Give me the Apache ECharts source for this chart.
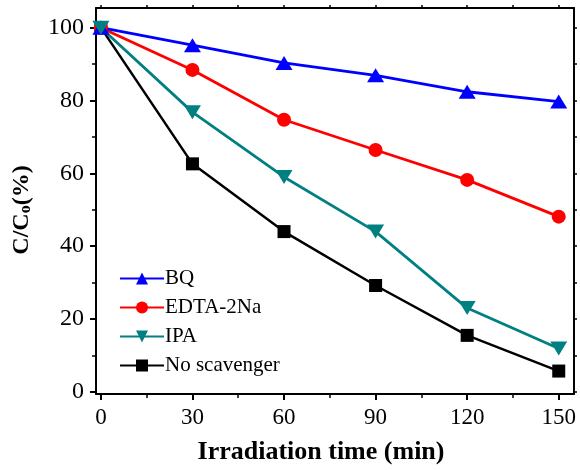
<!DOCTYPE html>
<html>
<head>
<meta charset="utf-8">
<script src="https://cdn.jsdelivr.net/npm/echarts@6/dist/echarts.min.js"></script>
<style>html,body{margin:0;padding:0;background:#fff}#c{width:580px;height:470px}</style>
</head>
<body>
<div id="c"></div>
<script>
const times = [0, 30, 60, 90, 120, 150];
const bq = [100, 95.2, 90.3, 86.9, 82.4, 79.7];
const edta = [100, 88.4, 74.7, 66.4, 58.2, 48.1];
const ipa = [100, 76.8, 59.0, 44.0, 23.0, 11.9];
const noScav = [100, 62.6, 44.0, 29.2, 15.5, 5.7];
const xMajor = [0, 30, 60, 90, 120, 150];
const xMinor = [15, 45, 75, 105, 135];
const xTop = [0, 15, 30, 45, 60, 75, 90, 105, 120, 135, 150];
const yMajor = [0, 20, 40, 60, 80, 100];
const yMinor = [10, 30, 50, 70, 90];
const yRight = [0, 10, 20, 30, 40, 50, 60, 70, 80, 90, 100];

const FONT = 'Liberation Serif';
const XMIN = -1.6, XMAX = 155, YMIN = -0.6, YMAX = 105.4;
const axisLine = {show: true, onZero: false, lineStyle: {color: '#000', width: 2}};
const noLine = {show: false, onZero: false};
const pair = (xs, ys) => xs.map((x, i) => [x, ys[i]]);

const chart = echarts.init(document.getElementById('c'), null, {renderer: 'canvas'});
chart.setOption({
  animation: false,
  backgroundColor: '#fff',
  grid: {left: 96, right: 6, top: 8, bottom: 74, containLabel: false},
  xAxis: [
    {type: 'value', position: 'bottom', min: XMIN, max: XMAX, offset: 0,
     axisLine: axisLine, splitLine: {show: false},
     axisTick: {show: true, customValues: xMajor, length: 6, inside: false, lineStyle: {color: '#000', width: 2}},
     axisLabel: {show: true, customValues: xMajor, margin: 12, fontFamily: FONT, fontSize: 23, color: '#000'},
     name: 'Irradiation time (min)', nameLocation: 'middle', nameGap: 45,
     nameTextStyle: {fontFamily: FONT, fontSize: 26, fontWeight: 'bold', color: '#000', padding: [0, 28, 0, 0]}},
    {type: 'value', position: 'bottom', min: XMIN, max: XMAX, offset: 0,
     axisLine: noLine, splitLine: {show: false},
     axisTick: {show: true, customValues: xMinor, length: 4, lineStyle: {color: '#000', width: 1.5}},
     axisLabel: {show: false}},
    {type: 'value', position: 'top', min: XMIN, max: XMAX, offset: 0,
     axisLine: axisLine, splitLine: {show: false},
     axisTick: {show: true, customValues: xTop, length: 3, lineStyle: {color: '#000', width: 1.5}},
     axisLabel: {show: false}}
  ],
  yAxis: [
    {type: 'value', position: 'left', min: YMIN, max: YMAX, offset: 0,
     axisLine: axisLine, splitLine: {show: false},
     axisTick: {show: true, customValues: yMajor, length: 6, lineStyle: {color: '#000', width: 2}},
     axisLabel: {show: true, customValues: yMajor, margin: 12, fontFamily: FONT, fontSize: 24, color: '#000'},
     name: '{a|C/C}{s|o}{a|(%)}', nameLocation: 'middle', nameGap: 62, nameRotate: 90,
     nameTextStyle: {padding: [0, 18, 0, 0], rich: {
       a: {fontFamily: FONT, fontSize: 24, fontWeight: 'bold', color: '#000'},
       s: {fontFamily: FONT, fontSize: 16, fontWeight: 'bold', color: '#000', verticalAlign: 'bottom', padding: [8, 0, 0, 0]}
     }}},
    {type: 'value', position: 'left', min: YMIN, max: YMAX, offset: 0,
     axisLine: noLine, splitLine: {show: false},
     axisTick: {show: true, customValues: yMinor, length: 4, lineStyle: {color: '#000', width: 1.5}},
     axisLabel: {show: false}},
    {type: 'value', position: 'right', min: YMIN, max: YMAX, offset: 0,
     axisLine: axisLine, splitLine: {show: false},
     axisTick: {show: true, customValues: yRight, length: 3, lineStyle: {color: '#000', width: 1.5}},
     axisLabel: {show: false}}
  ],
  legend: {
    orient: 'vertical', left: 114, top: 263, itemWidth: 44, itemHeight: 15, itemGap: 8,
    textStyle: {fontFamily: FONT, fontSize: 21, color: '#000', padding: [0, 0, 0, -4]},
    data: ['BQ', 'EDTA-2Na', 'IPA', 'No scavenger']
  },
  series: [
    {name: 'No scavenger', type: 'line', data: pair(times, noScav), symbol: 'rect', symbolSize: 13,
     itemStyle: {color: '#000'}, lineStyle: {color: '#000', width: 2.5}},
    {name: 'EDTA-2Na', type: 'line', data: pair(times, edta), symbol: 'circle', symbolSize: 14,
     itemStyle: {color: '#ff0000'}, lineStyle: {color: '#ff0000', width: 2.8}},
    {name: 'BQ', type: 'line', data: pair(times, bq), symbol: 'triangle', symbolSize: [17, 14],
     itemStyle: {color: '#0000ff'}, lineStyle: {color: '#0000ff', width: 2.8}},
    {name: 'IPA', type: 'line', data: pair(times, ipa), symbol: 'triangle', symbolSize: [17, 14], symbolRotate: 180,
     itemStyle: {color: '#008080'}, lineStyle: {color: '#008080', width: 2.8}}
  ]
});
</script>
</body>
</html>
